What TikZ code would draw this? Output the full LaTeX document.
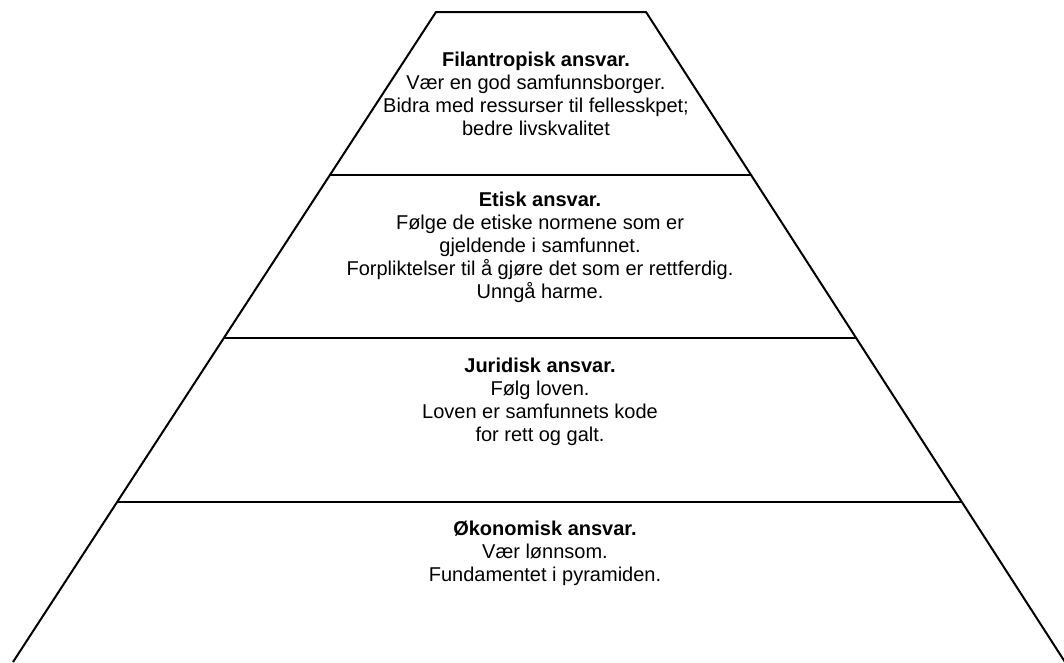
\documentclass[tikz,border=0pt]{standalone}
\usepackage{fontspec}
\setmainfont{Liberation Sans}
\usetikzlibrary{calc}
\begin{document}
\begin{tikzpicture}[x=1pt,y=-1pt,
  edge/.style={line width=2pt,line join=round},
  tier/.style={align=center,font=\fontsize{20}{23}\selectfont,inner sep=0pt}]
\useasboundingbox[fill=white] (0,0) rectangle (1064,662);
\coordinate (tl) at (436,12);
\coordinate (tr) at (646,12);
\coordinate (bl) at (13,662);
\coordinate (br) at (1065,662);
\draw[edge] (bl) -- (tl) -- (tr) -- (br);
\coordinate (l1) at ($(tl)!0.2508!(bl)$);
\coordinate (r1) at ($(tr)!0.2508!(br)$);
\coordinate (l2) at ($(tl)!0.5015!(bl)$);
\coordinate (r2) at ($(tr)!0.5015!(br)$);
\coordinate (l3) at ($(tl)!0.7538!(bl)$);
\coordinate (r3) at ($(tr)!0.7538!(br)$);
\draw[edge] (l1) -- (r1);
\draw[edge] (l2) -- (r2);
\draw[edge] (l3) -- (r3);
\node[tier] (t1) at (536,94) {\textbf{Filantropisk ansvar.}\\Vær en god samfunnsborger.\\Bidra med ressurser til fellesskpet;\\bedre livskvalitet};
\node[tier] (t2) at (540,247) {\textbf{Etisk ansvar.}\\Følge de etiske normene som er\\gjeldende i samfunnet.\\Forpliktelser til å gjøre det som er rettferdig.\\Unngå harme.};
\node[tier] (t3) at (540,402) {\textbf{Juridisk ansvar.}\\Følg loven.\\Loven er samfunnets kode\\for rett og galt.};
\node[tier] (t4) at (545,553) {\textbf{Økonomisk ansvar.}\\Vær lønnsom.\\Fundamentet i pyramiden.};
\end{tikzpicture}
\end{document}
